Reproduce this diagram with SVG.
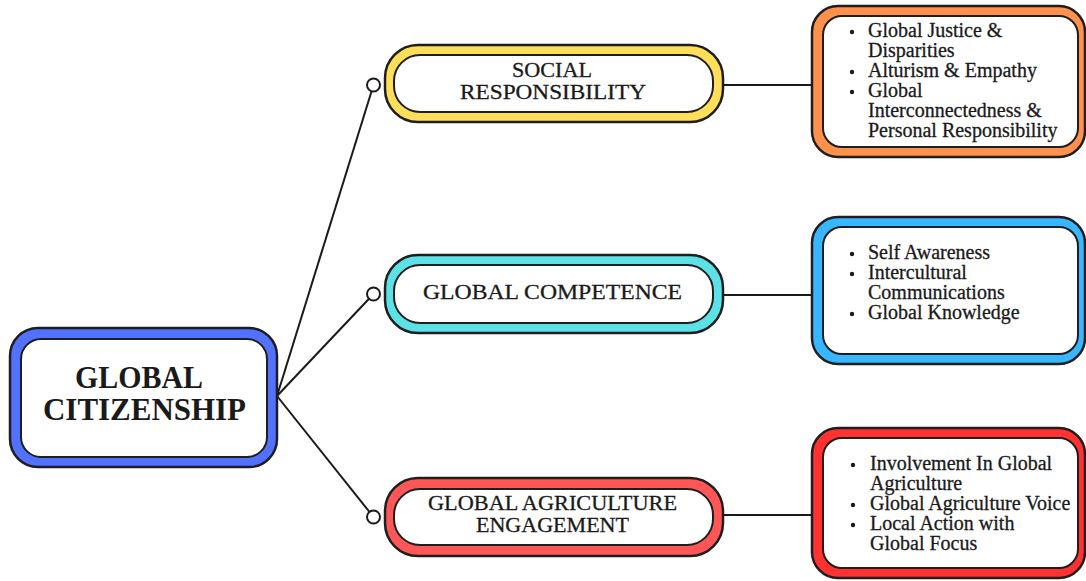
<svg xmlns="http://www.w3.org/2000/svg" width="1086" height="581" viewBox="0 0 1086 581">
<style>
.o{stroke:#1e1e1e;stroke-width:2.5}
.i{fill:#fff;stroke:#1e1e1e;stroke-width:2}
.t{font-family:"Liberation Serif","Times New Roman",serif;fill:#1a1a1a}
.h{font-size:31px;font-weight:bold}
.s{font-size:21px;stroke:#1a1a1a;stroke-width:0.3}
.b{font-size:20px;stroke:#1a1a1a;stroke-width:0.3}
.dot{fill:#1a1a1a}
.c{stroke:#1a1a1a;stroke-width:2;fill:none}
.k{fill:#fff;stroke:#1a1a1a;stroke-width:2}
</style>
<rect width="1086" height="581" fill="#fff"/>
<g id="connectors">
<line class="c" x1="277" y1="396" x2="373.5" y2="85"/>
<line class="c" x1="277" y1="396" x2="373.5" y2="294"/>
<line class="c" x1="277" y1="396" x2="373.5" y2="517"/>
<line class="c" x1="723" y1="85" x2="813" y2="85"/>
<line class="c" x1="723" y1="295" x2="813" y2="295"/>
<line class="c" x1="723" y1="515" x2="813" y2="515"/>
<circle class="k" cx="373.5" cy="85" r="6.5"/>
<circle class="k" cx="373.5" cy="294" r="6.5"/>
<circle class="k" cx="373.5" cy="517" r="6.5"/>
</g>
<g id="global-citizenship">
<rect class="o" x="10" y="328" width="267" height="139" rx="28" fill="#5271ff"/>
<rect class="i" x="21" y="339" width="246" height="118" rx="20"/>
<text class="t h" x="75" y="388" textLength="128" lengthAdjust="spacingAndGlyphs">GLOBAL</text>
<text class="t h" x="43" y="420" textLength="203" lengthAdjust="spacingAndGlyphs">CITIZENSHIP</text>
</g>
<g id="social-responsibility">
<rect class="o" x="385" y="45" width="338" height="77" rx="33" fill="#ffde59"/>
<rect class="i" x="394" y="55" width="319" height="57" rx="26"/>
<text class="t s" x="512" y="77" textLength="80" lengthAdjust="spacingAndGlyphs">SOCIAL</text>
<text class="t s" x="460" y="99" textLength="186" lengthAdjust="spacingAndGlyphs">RESPONSIBILITY</text>
</g>
<g id="global-competence">
<rect class="o" x="385" y="255" width="338" height="78" rx="33" fill="#5ce1e6"/>
<rect class="i" x="394" y="265" width="319" height="58" rx="26"/>
<text class="t s" x="423" y="299" textLength="259" lengthAdjust="spacingAndGlyphs">GLOBAL COMPETENCE</text>
</g>
<g id="global-agriculture-engagement">
<rect class="o" x="385" y="478" width="338" height="78" rx="33" fill="#ff5757"/>
<rect class="i" x="394" y="489" width="319" height="56" rx="26"/>
<text class="t s" x="428" y="510" textLength="249" lengthAdjust="spacingAndGlyphs">GLOBAL AGRICULTURE</text>
<text class="t s" x="476" y="532" textLength="153" lengthAdjust="spacingAndGlyphs">ENGAGEMENT</text>
</g>
<g id="social-details">
<rect class="o" x="812" y="6" width="273" height="151" rx="26" fill="#ff914d"/>
<rect class="i" x="823" y="16" width="255" height="131" rx="19"/>
<circle class="dot" cx="852" cy="32" r="2.2"/>
<circle class="dot" cx="852" cy="72" r="2.2"/>
<circle class="dot" cx="852" cy="92" r="2.2"/>
<text class="t b" x="868" y="37">Global Justice &amp;</text>
<text class="t b" x="868" y="57">Disparities</text>
<text class="t b" x="868" y="77">Alturism &amp; Empathy</text>
<text class="t b" x="868" y="97">Global</text>
<text class="t b" x="868" y="117">Interconnectedness &amp;</text>
<text class="t b" x="868" y="137">Personal Responsibility</text>
</g>
<g id="competence-details">
<rect class="o" x="812" y="217" width="273" height="147" rx="26" fill="#38b6ff"/>
<rect class="i" x="823" y="227" width="255" height="127" rx="19"/>
<circle class="dot" cx="852" cy="254" r="2.2"/>
<circle class="dot" cx="852" cy="274" r="2.2"/>
<circle class="dot" cx="852" cy="314" r="2.2"/>
<text class="t b" x="868" y="259">Self Awareness</text>
<text class="t b" x="868" y="279">Intercultural</text>
<text class="t b" x="868" y="299">Communications</text>
<text class="t b" x="868" y="319">Global Knowledge</text>
</g>
<g id="agriculture-details">
<rect class="o" x="812" y="428" width="273" height="150" rx="26" fill="#ff3131"/>
<rect class="i" x="823" y="438" width="255" height="130" rx="19"/>
<circle class="dot" cx="853" cy="465" r="2.2"/>
<circle class="dot" cx="853" cy="505" r="2.2"/>
<circle class="dot" cx="853" cy="525" r="2.2"/>
<text class="t b" x="870" y="470">Involvement In Global</text>
<text class="t b" x="870" y="490">Agriculture</text>
<text class="t b" x="870" y="510">Global Agriculture Voice</text>
<text class="t b" x="870" y="530">Local Action with</text>
<text class="t b" x="870" y="550">Global Focus</text>
</g>
</svg>
